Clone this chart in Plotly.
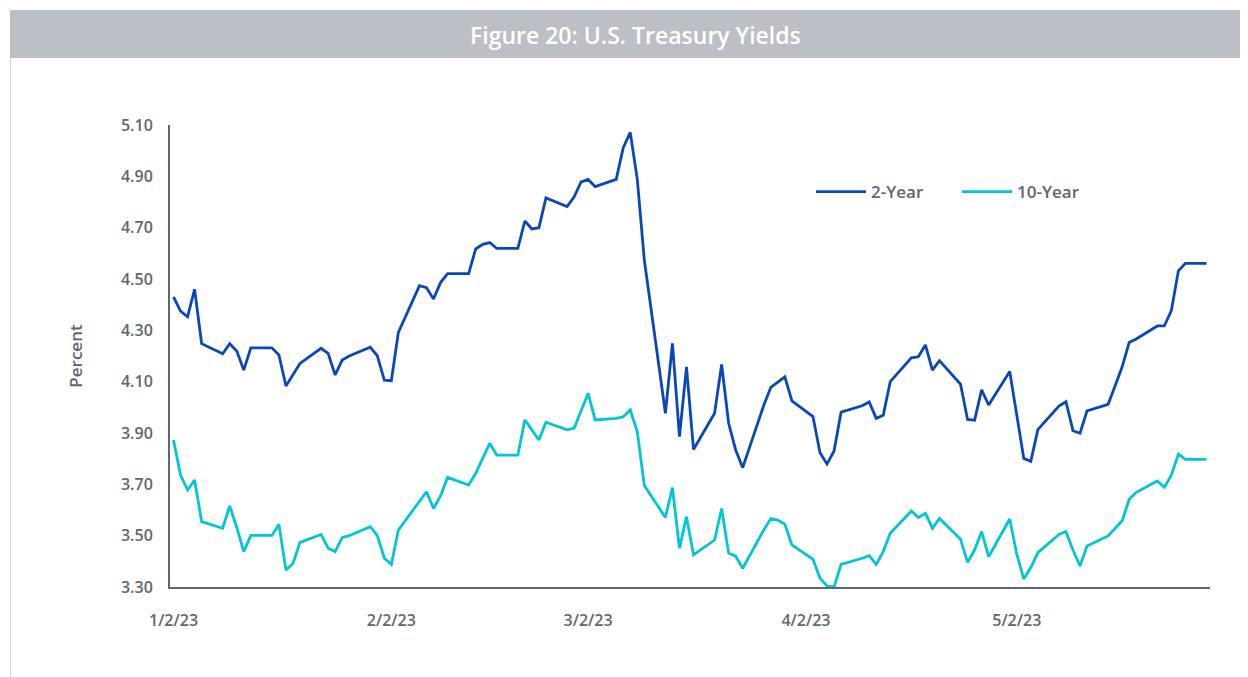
import pandas as pd
import plotly.graph_objects as go

# ---------------- data ----------------
dates = pd.bdate_range("2023-01-02", "2023-05-29")  # all weekdays, holidays carry prior value

two_year = [
    # Jan
    4.43, 4.375, 4.353, 4.46, 4.248, 4.209, 4.248, 4.219, 4.145, 4.232, 4.232,
    4.204, 4.083, 4.127, 4.171, 4.23, 4.21, 4.126, 4.184, 4.20, 4.234, 4.201,
    # Feb
    4.106, 4.104, 4.292, 4.474, 4.466, 4.422, 4.486, 4.521, 4.521, 4.617,
    4.635, 4.642, 4.619, 4.619, 4.726, 4.695, 4.70, 4.816, 4.782, 4.819,
    # Mar
    4.878, 4.888, 4.86, 4.888, 5.012, 5.071, 4.888, 4.574, 3.977, 4.249, 3.886,
    4.158, 3.836, 3.977, 4.167, 3.938, 3.834, 3.765, 4.008, 4.078, 4.099, 4.119, 4.025,
    # Apr
    3.964, 3.823, 3.779, 3.83, 3.981, 4.006, 4.021, 3.957, 3.969, 4.10,
    4.193, 4.197, 4.243, 4.145, 4.182, 4.09, 3.953, 3.95, 4.068, 4.009,
    # May
    4.14, 3.97, 3.801, 3.79, 3.913, 4.005, 4.022, 3.909, 3.899, 3.986, 4.012,
    4.084, 4.158, 4.253, 4.266, 4.317, 4.317, 4.377, 4.532, 4.561, 4.561,
]

ten_year = [
    # Jan
    3.873, 3.736, 3.678, 3.717, 3.555, 3.529, 3.616, 3.532, 3.438, 3.501, 3.501,
    3.544, 3.366, 3.392, 3.474, 3.505, 3.451, 3.438, 3.492, 3.50, 3.535, 3.50,
    # Feb
    3.412, 3.388, 3.522, 3.634, 3.671, 3.606, 3.655, 3.727, 3.697, 3.743,
    3.801, 3.86, 3.814, 3.814, 3.951, 3.912, 3.873, 3.942, 3.912, 3.918,
    # Mar
    3.99, 4.055, 3.951, 3.957, 3.963, 3.99, 3.905, 3.695, 3.571, 3.687, 3.451,
    3.574, 3.425, 3.483, 3.606, 3.432, 3.42, 3.373, 3.522, 3.567, 3.561, 3.545, 3.464,
    # Apr
    3.408, 3.334, 3.304, 3.30, 3.388, 3.412, 3.422, 3.388, 3.438, 3.509,
    3.596, 3.571, 3.587, 3.529, 3.567, 3.486, 3.396, 3.444, 3.516, 3.418,
    # May
    3.565, 3.428, 3.331, 3.376, 3.434, 3.505, 3.516, 3.444, 3.382, 3.46, 3.499,
    3.529, 3.558, 3.642, 3.669, 3.713, 3.688, 3.736, 3.818, 3.797, 3.797,
]

x_tick_dates = ["2023-01-02", "2023-02-02", "2023-03-02", "2023-04-02", "2023-05-02"]
y_ticks = [3.30, 3.50, 3.70, 3.90, 4.10, 4.30, 4.50, 4.70, 4.90, 5.10]

title_text = "Figure 20: U.S. Treasury Yields"
series_names = ["2-Year", "10-Year"]

assert len(dates) == len(two_year) == len(ten_year)

# ---------------- style ----------------
OFF = 8                      # page body margin of the html page
W, H = 1248 - OFF, 677 - OFF
ML, MR, MT, MB = 170 - OFF, 38, 125 - OFF, 90
AX = "#5f6670"
BLUE = "#0a48b9"
CYAN = "#00c6d5"
FONT = "Open Sans"


def px_x(p):  # screenshot px -> paper
    return (p - OFF - ML) / (W - ML - MR)


def px_y(p):
    return (H - MB - (p - OFF)) / (H - MT - MB)


fig = go.Figure()
fig.add_trace(go.Scatter(x=dates, y=two_year, name=series_names[0], mode="lines",
                         line=dict(color=BLUE, width=2.8)))
fig.add_trace(go.Scatter(x=dates, y=ten_year, name=series_names[1], mode="lines",
                         line=dict(color=CYAN, width=2.8)))

fig.update_layout(
    width=W, height=H,
    margin=dict(l=ML, r=MR, t=MT, b=MB),
    paper_bgcolor="white", plot_bgcolor="white",
    font=dict(family=FONT, color=AX, size=16),
    showlegend=True,
    legend=dict(orientation="h", x=px_x(811), y=px_y(192), xanchor="left", yanchor="middle",
                font=dict(family=FONT, size=17, color=AX, weight=600),
                bgcolor="rgba(0,0,0,0)", entrywidth=81, entrywidthmode="pixels",
                itemwidth=50),
    xaxis=dict(
        type="date",
        range=["2023-01-01 12:00", "2023-05-29 12:00"],
        tickvals=x_tick_dates, tickformat="%-m/%-d/%y",
        showgrid=False, zeroline=False,
        showline=True, linecolor=AX, linewidth=2,
        ticks="", ticklabelstandoff=18,
        tickfont=dict(family=FONT, size=16, color=AX, weight=600),
    ),
    yaxis=dict(
        range=[3.30, 5.10],
        tickvals=y_ticks, tickformat=".2f",
        showgrid=False, zeroline=False,
        showline=True, linecolor=AX, linewidth=2,
        ticks="", ticklabelstandoff=12,
        tickfont=dict(family=FONT, size=16, color=AX, weight=600),
        title=dict(text="Percent", standoff=34,
                   font=dict(family=FONT, size=17, color=AX, weight=600)),
    ),
    shapes=[
        dict(type="rect", xref="paper", yref="paper",
             x0=px_x(10), x1=px_x(1255), y0=px_y(58), y1=px_y(10),
             fillcolor="#bcbfc5", line=dict(width=0), layer="below"),
        dict(type="line", xref="paper", yref="paper",
             x0=px_x(10.5), x1=px_x(10.5), y0=px_y(58), y1=px_y(685),
             line=dict(color="#d3d5d9", width=1)),
    ],
    annotations=[
        dict(text=title_text, xref="paper", yref="paper",
             x=px_x(635), y=px_y(35), xanchor="center", yanchor="middle",
             showarrow=False,
             font=dict(family=FONT, size=23, color="white", weight=600)),
    ],
)

fig.write_html("out.html")
